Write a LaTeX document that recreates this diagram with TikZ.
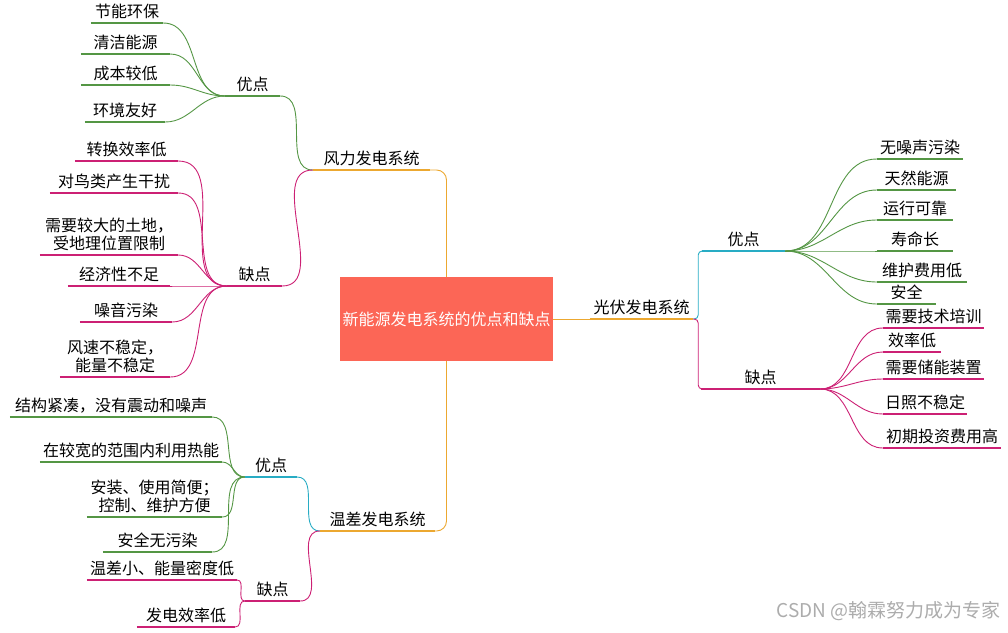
\documentclass[tikz,border=0pt]{standalone}
\usepackage{fontspec}
\setmainfont{Noto Sans CJK SC}
\usepackage{tikz}
\usetikzlibrary{calc}
\definecolor{RootRed}{RGB}{252,102,86}
\definecolor{BranchOrange}{RGB}{236,168,48}
\definecolor{ProGreen}{RGB}{84,150,68}
\definecolor{ConMagenta}{RGB}{204,32,116}
\definecolor{SubTeal}{RGB}{40,172,196}
\definecolor{MarkGray}{RGB}{172,172,172}

\begin{document}
\begin{tikzpicture}[x=1pt,y=-1pt,
    every node/.style={font=\fontsize{16}{18}\selectfont},
    topic/.style={anchor=south,inner xsep=0pt,inner ysep=4pt,align=center,
      append after command={(\tikzlastnode.south west) edge[draw=#1,line width=1.6pt] (\tikzlastnode.south east)}},
    link/.style={draw=#1,line width=.9pt}]
      \useasboundingbox (0,0) rectangle (1008,632);
      \node[fill=RootRed,text=white,minimum width=213,minimum height=84,inner sep=0pt] (root) at (446.5,319){新能源发电系统的优点和缺点};
      \node[topic=BranchOrange,minimum width=117] (wind) at (371.5,170){风力发电系统};
      \node[topic=BranchOrange,minimum width=115] (temp) at (377.5,531){温差发电系统};
      \node[topic=BranchOrange,minimum width=103] (pv) at (641.5,319){光伏发电系统};
      \draw[link=BranchOrange,rounded corners=10] (root.north) |- (wind.south east);
      \draw[link=BranchOrange,rounded corners=10] (root.south) |- (temp.south east);
      \draw[link=BranchOrange] (root.east) -- (pv.south west);

      \node[topic=ProGreen,minimum width=55] (windpro) at (252.5,96){优点};
      \node[topic=ProGreen,minimum width=72] (w1) at (127,23){节能环保};
      \node[topic=ProGreen,minimum width=89] (w2) at (125.5,54){清洁能源};
      \node[topic=ProGreen,minimum width=89] (w3) at (125.5,85){成本较低};
      \node[topic=ProGreen,minimum width=80] (w4) at (125,122){环境友好};
      \node[topic=ConMagenta,minimum width=55] (windcon) at (254.5,286){缺点};
      \node[topic=ConMagenta,minimum width=103] (w5) at (126.5,161){转换效率低};
      \node[topic=ConMagenta,minimum width=128] (w6) at (114,193){对鸟类产生干扰};
      \node[topic=ConMagenta,minimum width=138] (w7) at (109,255){需要较大的土地，\\受地理位置限制};
      \node[topic=ConMagenta,minimum width=102] (w8) at (119,286){经济性不足};
      \node[topic=ConMagenta,minimum width=92] (w9) at (126,322){噪音污染};
      \node[topic=ConMagenta,minimum width=110] (w10) at (115,377){风速不稳定，\\能量不稳定};
      \draw[link=ProGreen] (wind.south west) to[out=180,in=0] (windpro.south east);
      \draw[link=ConMagenta] (wind.south west) to[out=180,in=0] (windcon.south east);
      \foreach \n in {w1,w2,w3,w4}
        \draw[link=ProGreen] (windpro.south west) to[out=180,in=0] (\n.south east);
      \foreach \n in {w5,w6,w7,w8,w9,w10}
        \draw[link=ConMagenta] (windcon.south west) to[out=180,in=0] (\n.south east);

      \node[topic=SubTeal,minimum width=52] (tpro) at (271,477){优点};
      \node[topic=ProGreen,minimum width=202] (t1) at (111,417){结构紧凑，没有震动和噪声};
      \node[topic=ProGreen,minimum width=182] (t2) at (131,462){在较宽的范围内利用热能};
      \node[topic=ProGreen,minimum width=135] (t3) at (154.5,517){安装、使用简便；\\控制、维护方便};
      \node[topic=ProGreen,minimum width=109] (t4) at (157.5,552){安全无污染};
      \node[topic=ConMagenta,minimum width=55] (tcon) at (272.5,601){缺点};
      \node[topic=ConMagenta,minimum width=150] (t5) at (162,580){温差小、能量密度低};
      \node[topic=ConMagenta,minimum width=98] (t6) at (186,627){发电效率低};
      \draw[link=SubTeal] (temp.south west) to[out=180,in=0] (tpro.south east);
      \draw[link=ConMagenta] (temp.south west) to[out=180,in=0] (tcon.south east);
      \foreach \n in {t1,t2,t3,t4}
        \draw[link=ProGreen] (tpro.south west) to[out=180,in=0] (\n.south east);
      \foreach \n in {t5,t6}
        \draw[link=ConMagenta] (tcon.south west) to[out=180,in=0] (\n.south east);

      \node[topic=SubTeal,minimum width=83] (ppro) at (743.5,251){优点};
      \node[topic=ProGreen,minimum width=86] (p1) at (920,159){无噪声污染};
      \node[topic=ProGreen,minimum width=79] (p2) at (916.5,190){天然能源};
      \node[topic=ProGreen,minimum width=76] (p3) at (915,220){运行可靠};
      \node[topic=ProGreen,minimum width=76] (p4) at (915,251){寿命长};
      \node[topic=ProGreen,minimum width=90] (p5) at (922,282){维护费用低};
      \node[topic=ProGreen,minimum width=59] (p6) at (906.5,304){安全};
      \node[topic=ConMagenta,minimum width=119] (pcon) at (760.5,389){缺点};
      \node[topic=ConMagenta,minimum width=101] (p7) at (933.5,328){需要技术培训};
      \node[topic=ConMagenta,minimum width=58] (p8) at (912,352){效率低};
      \node[topic=ConMagenta,minimum width=101] (p9) at (933.5,379){需要储能装置};
      \node[topic=ConMagenta,minimum width=84] (p10) at (925,414){日照不稳定};
      \node[topic=ConMagenta,minimum width=118] (p11) at (942,448){初期投资费用高};
      \draw[link=SubTeal,rounded corners=4] (pv.south east) -- ++(5,0) |- (ppro.south west);
      \draw[link=ConMagenta,rounded corners=4] (pv.south east) -- ++(5,0) |- (pcon.south west);
      \foreach \n in {p1,p2,p3,p4,p5,p6}
        \draw[link=ProGreen] (ppro.south east) to[out=0,in=180] (\n.south west);
      \foreach \n in {p7,p8,p9,p10,p11}
        \draw[link=ConMagenta] (pcon.south east) to[out=0,in=180] (\n.south west);

      \node[text=MarkGray,font=\fontsize{19}{21}\selectfont,anchor=east] (mark) at (1004,611){CSDN @翰霖努力成为专家};
    \end{tikzpicture}
\end{document}
